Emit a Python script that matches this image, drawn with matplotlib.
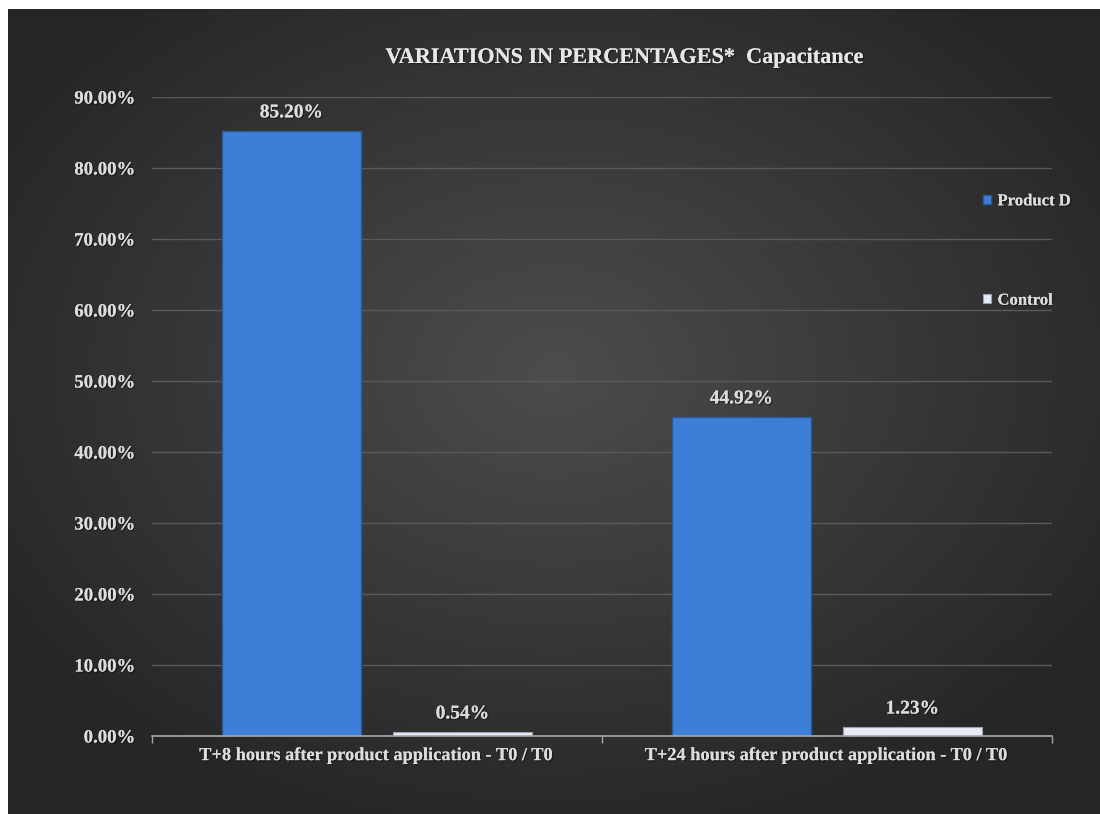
#!/usr/bin/env python3
"""Capacitance variation bar chart (Product D vs Control)."""
import matplotlib
matplotlib.use("Agg")
import matplotlib.pyplot as plt
import matplotlib.patheffects as pe
import numpy as np
from matplotlib.ticker import FuncFormatter, FixedLocator

categories = [
    "T+8 hours after product application - T0 / T0",
    "T+24 hours after product application - T0 / T0",
]
series_names = ["Product D", "Control"]
product_d = [85.20, 44.92]
control = [0.54, 1.23]
y_ticks = [0, 10, 20, 30, 40, 50, 60, 70, 80, 90]

TEXT = "#dcdcdc"
SERIF = ["Liberation Serif", "DejaVu Serif"]
SHADOW = [pe.withSimplePatchShadow(offset=(1, -1), shadow_rgbFace="black", alpha=0.35),
          pe.Normal()]


def main() -> None:
    W, H = 1100, 814
    fig = plt.figure(figsize=(W / 100, H / 100), dpi=100, facecolor="white")

    # dark radial-gradient panel
    bg = fig.add_axes([8 / W, 0, 1 - 8 / W, 1 - 9 / H])
    bg.set_axis_off()
    yy, xx = np.mgrid[0:1:400j, 0:1:540j]
    r = np.sqrt(((xx - 0.5) / 0.75) ** 2 + ((yy - 0.45) / 0.75) ** 2)
    shade = np.clip(0.30 - 0.19 * r, 0.15, 0.30)
    bg.imshow(np.dstack([shade] * 3), aspect="auto", extent=[0, 1, 0, 1],
              interpolation="bilinear")
    bg.set_xlim(0, 1)
    bg.set_ylim(0, 1)

    ax = fig.add_axes([152 / W, 1 - 736 / H, 900 / W, (736 - 97) / H])
    ax.patch.set_alpha(0)

    x = np.arange(len(categories))
    width = 0.307
    off = 0.19
    b1 = ax.bar(x - off, product_d, width, color="#3d7fd6", edgecolor="#28599c",
                linewidth=1.0, label=series_names[0], zorder=3)
    b2 = ax.bar(x + off, control, width, color="#e6eaf2", edgecolor="#9aa3b5",
                linewidth=0.8, label=series_names[1], zorder=3)

    for bars in (b1, b2):
        for bar in bars:
            v = bar.get_height()
            ax.annotate(f"{v:.2f}%", (bar.get_x() + bar.get_width() / 2, v),
                        xytext=(0, 7), textcoords="offset points", ha="center",
                        va="bottom", color=TEXT, fontsize=14,
                        fontweight="bold", family=SERIF, path_effects=SHADOW)

    ax.set_xlim(-0.5, len(categories) - 0.5)
    ax.set_ylim(0, 90)
    ax.set_yticks(y_ticks)
    ax.yaxis.set_major_formatter(FuncFormatter(lambda v, _: f"{v:.2f}%"))
    ax.grid(axis="y", color="#5a5a5a", linewidth=1.0, zorder=0)
    ax.tick_params(axis="y", length=0, pad=12, labelcolor=TEXT, labelsize=13.5)

    ax.set_xticks(x)
    ax.set_xticklabels(categories)
    ax.xaxis.set_minor_locator(FixedLocator([-0.5, 0.5, 1.5]))
    ax.tick_params(axis="x", which="major", length=0, pad=8, labelcolor=TEXT,
                   labelsize=13.2)
    ax.tick_params(axis="x", which="minor", length=5, color="#a8a8a8", width=1)
    for lab in ax.get_xticklabels() + ax.get_yticklabels():
        lab.set_fontweight("bold")
        lab.set_family(SERIF)
        lab.set_path_effects(SHADOW)

    for side in ("top", "right", "left"):
        ax.spines[side].set_visible(False)
    ax.spines["bottom"].set_color("#a8a8a8")
    ax.spines["bottom"].set_linewidth(1.2)
    ax.spines["bottom"].set_zorder(4)

    fig.text(625 / W, 1 - 58 / H, "VARIATIONS IN PERCENTAGES*  Capacitance",
             ha="center", va="center", color="#e6e6e6", fontsize=16,
             fontweight="bold", family=SERIF, path_effects=SHADOW)

    leg = ax.legend(loc="upper left", bbox_to_anchor=(975 / W, 1 - 185 / H),
                    bbox_transform=fig.transFigure, frameon=False,
                    handlelength=0.45, handleheight=0.45, handletextpad=0.4,
                    labelspacing=5.0, borderpad=0,
                    prop={"family": SERIF, "weight": "bold", "size": 12})
    for t in leg.get_texts():
        t.set_color(TEXT)
        t.set_path_effects(SHADOW)

    fig.savefig("out.png", dpi=100, facecolor="white")


if __name__ == "__main__":
    main()
